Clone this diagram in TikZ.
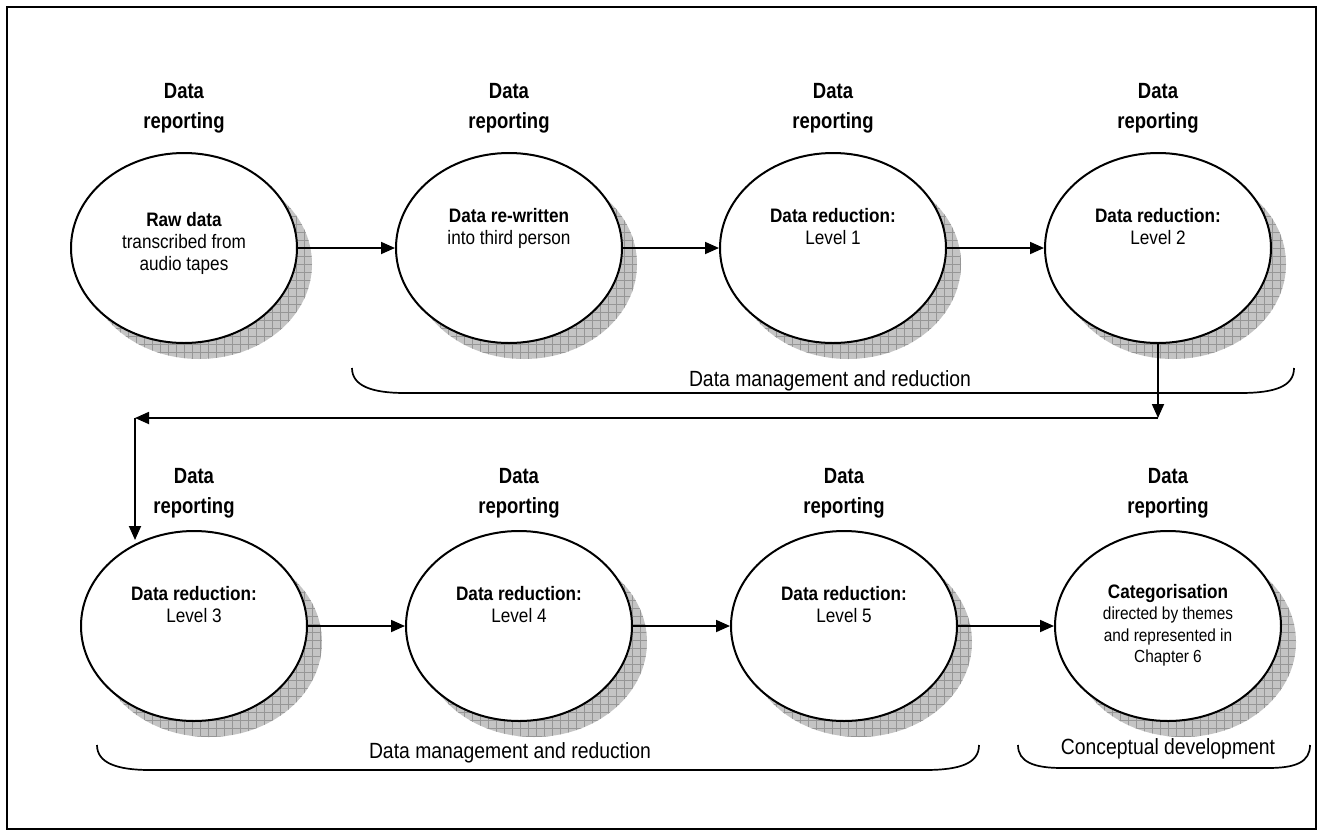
\documentclass[tikz,border=0pt]{standalone}
\usepackage{fontspec}
\newfontfamily\headfont{Liberation Sans}[FakeStretch=0.84]
\newfontfamily\bodyfont{Liberation Sans}[FakeStretch=0.88]
\usetikzlibrary{shapes.geometric,arrows.meta}
\definecolor{shadowfill}{RGB}{196,196,196}
\definecolor{shadowgrid}{RGB}{150,150,150}

\begin{document}
\begin{tikzpicture}[x=1pt,y=-1pt,
  stage/.style={ellipse, draw, line width=2pt, fill=white,
    minimum width=226pt, minimum height=190pt, inner sep=0pt},
  head/.style={align=center, anchor=north, inner sep=0pt,
    font=\headfont\bfseries\fontsize{22}{30}\selectfont},
  inner/.style={align=center, anchor=north, inner sep=0pt,
    font=\bodyfont\fontsize{19.5}{22}\selectfont},
  flow/.style={line width=1.8pt, -{Triangle[length=14pt,width=12pt]}},
  brace/.style={line width=1.7pt},
  bracelabel/.style={anchor=base, inner sep=0pt,
    font=\bodyfont\fontsize{22}{26}\selectfont},
]
\useasboundingbox (0,0) rectangle (1323,836);
\draw[line width=2pt] (7,7) rectangle (1316,829);

% stage centres
\coordinate (p1) at (184,248);
\coordinate (p2) at (509,248);
\coordinate (p3) at (833,248);
\coordinate (p4) at (1158,248);
\coordinate (p5) at (194,626);
\coordinate (p6) at (519,626);
\coordinate (p7) at (844,626);
\coordinate (p8) at (1168,626);

% hatched drop shadows
\foreach \p in {p1,p2,p3,p4,p5,p6,p7,p8} {
  \begin{scope}
    \clip ([shift={(15,16)}]\p) ellipse [x radius=113pt, y radius=95pt];
    \fill[shadowfill] ([shift={(-110,-90)}]\p) rectangle ([shift={(140,120)}]\p);
    \draw[shadowgrid, line width=0.5pt, step=8pt]
      ([shift={(-110,-90)}]\p) grid ([shift={(140,120)}]\p);
  \end{scope}
}

% stages
\node[stage] (e1) at (p1) {};
\node[stage] (e2) at (p2) {};
\node[stage] (e3) at (p3) {};
\node[stage] (e4) at (p4) {};
\node[stage] (e5) at (p5) {};
\node[stage] (e6) at (p6) {};
\node[stage] (e7) at (p7) {};
\node[stage] (e8) at (p8) {};

% headings
\node[head] (h1) at (184,83) {Data\\reporting};
\node[head] (h2) at (509,83) {Data\\reporting};
\node[head] (h3) at (833,83) {Data\\reporting};
\node[head] (h4) at (1158,83) {Data\\reporting};
\node[head] (h5) at (194,468) {Data\\reporting};
\node[head] (h6) at (519,468) {Data\\reporting};
\node[head] (h7) at (844,468) {Data\\reporting};
\node[head] (h8) at (1168,468) {Data\\reporting};

% stage texts
\node[inner] (t1) at (184,212) {\textbf{Raw data}\\transcribed from\\audio tapes};
\node[inner] (t2) at (509,208) {\textbf{Data re-written}\\into third person};
\node[inner] (t3) at (833,208) {\textbf{Data reduction:}\\Level 1};
\node[inner] (t4) at (1158,208) {\textbf{Data reduction:}\\Level 2};
\node[inner] (t5) at (194,586) {\textbf{Data reduction:}\\Level 3};
\node[inner] (t6) at (519,586) {\textbf{Data reduction:}\\Level 4};
\node[inner] (t7) at (844,586) {\textbf{Data reduction:}\\Level 5};
\node[inner, font=\bodyfont\fontsize{17.5}{21.5}\selectfont] (t8) at (1168,584)
  {{\bfseries\fontsize{19.5}{22}\selectfont Categorisation}\\directed by themes\\and represented in\\Chapter 6};

% flow between stages
\draw[flow] (e1.east) -- (e2.west);
\draw[flow] (e2.east) -- (e3.west);
\draw[flow] (e3.east) -- (e4.west);
\coordinate (k1) at (1158,418);
\coordinate (k2) at (135,418);
\coordinate (k3) at (135,540);
\draw[flow] (e4.south) -- (k1);
\draw[flow] (k1) -- (k2);
\draw[flow] (k2) -- (k3);
\draw[flow] (e5.east) -- (e6.west);
\draw[flow] (e6.east) -- (e7.west);
\draw[flow] (e7.east) -- (e8.west);

% phase brackets
\draw[brace] (352,368) .. controls (352,386) and (372,393) .. (405,393)
  -- (1240,393) .. controls (1276,393) and (1294,386) .. (1294,368);
\node[bracelabel] (b1) at (830,386) {Data management and reduction};
\draw[brace] (97,745) .. controls (97,763) and (117,770) .. (150,770)
  -- (925,770) .. controls (961,770) and (979,763) .. (979,745);
\node[bracelabel] (b2) at (510,758) {Data management and reduction};
\draw[brace] (1018,745) .. controls (1018,762) and (1034,768) .. (1062,768)
  -- (1268,768) .. controls (1296,768) and (1310,762) .. (1310,745);
\node[bracelabel] (b3) at (1168,754) {Conceptual development};
\end{tikzpicture}
\end{document}
